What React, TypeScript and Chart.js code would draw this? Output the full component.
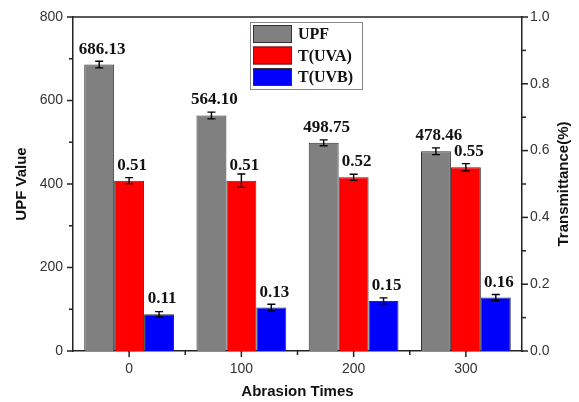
import React, { useEffect, useRef } from "react";
import { Chart, registerables } from "chart.js";

Chart.register(...registerables);

const categories = ["0", "100", "200", "300"];
const upfValues = [686.13, 564.1, 498.75, 478.46];
const upfErrors = [8, 8, 7, 8];
const uvaValues = [0.51, 0.51, 0.52, 0.55];
const uvaErrors = [0.009, 0.02, 0.009, 0.011];
const uvbValues = [0.11, 0.13, 0.15, 0.16];
const uvbErrors = [0.008, 0.01, 0.009, 0.009];
const upfLabels = ["686.13", "564.10", "498.75", "478.46"];
const uvaLabels = ["0.51", "0.51", "0.52", "0.55"];
const uvbLabels = ["0.11", "0.13", "0.15", "0.16"];
const seriesNames = ["UPF", "T(UVA)", "T(UVB)"];
const seriesColors = ["#808080", "#ff0000", "#0000ff"];

const AXIS = "#222";

const customPlugin = {
  id: "custom",
  afterDatasetsDraw(chart: any) {
    const ctx = chart.ctx;
    const { left, right, top, bottom } = chart.chartArea;
    const y = chart.scales.y;
    const y1 = chart.scales.y1;
    const x = chart.scales.x;
    ctx.save();
    // frame top line
    ctx.strokeStyle = AXIS;
    ctx.lineWidth = 1.5;
    ctx.beginPath();
    ctx.moveTo(left, top);
    ctx.lineTo(right, top);
    ctx.stroke();
    // left ticks
    for (let v = 0; v <= 800; v += 100) {
      const py = y.getPixelForValue(v);
      const len = v % 200 === 0 ? 6 : 4;
      ctx.beginPath();
      ctx.moveTo(left, py);
      ctx.lineTo(left - len, py);
      ctx.stroke();
    }
    for (let i = 0; i <= 10; i++) {
      const py = y1.getPixelForValue(i / 10);
      const len = i % 2 === 0 ? 6 : 4;
      ctx.beginPath();
      ctx.moveTo(right, py);
      ctx.lineTo(right + len, py);
      ctx.stroke();
    }
    const catW = (right - left) / categories.length;
    for (let i = 0; i < categories.length; i++) {
      const px = x.getPixelForValue(i);
      ctx.beginPath();
      ctx.moveTo(px, bottom);
      ctx.lineTo(px, bottom + 6);
      ctx.stroke();
      if (i > 0) {
        const mx = px - catW / 2;
        ctx.beginPath();
        ctx.moveTo(mx, bottom);
        ctx.lineTo(mx, bottom + 4);
        ctx.stroke();
      }
    }
    // error bars and labels
    const errs = [upfErrors, uvaErrors, uvbErrors];
    const labs = [upfLabels, uvaLabels, uvbLabels];
    chart.data.datasets.forEach((ds: any, di: number) => {
      const meta = chart.getDatasetMeta(di);
      const sc = chart.scales[ds.yAxisID];
      meta.data.forEach((bar: any, i: number) => {
        const v = ds.data[i];
        const e = errs[di][i];
        const yt = sc.getPixelForValue(v + e);
        const yb = sc.getPixelForValue(v - e);
        const bx = bar.x;
        ctx.strokeStyle = "#000";
        ctx.lineWidth = 1.4;
        ctx.beginPath();
        ctx.moveTo(bx, yt);
        ctx.lineTo(bx, yb);
        ctx.moveTo(bx - 4, yt);
        ctx.lineTo(bx + 4, yt);
        ctx.moveTo(bx - 4, yb);
        ctx.lineTo(bx + 4, yb);
        ctx.stroke();
        ctx.fillStyle = "#111";
        ctx.font = "bold 17px 'Liberation Serif', 'Times New Roman', serif";
        ctx.textAlign = "center";
        ctx.textBaseline = "alphabetic";
        ctx.fillText(labs[di][i], bx + 3, bar.y - 11);
      });
    });
    // legend
    ctx.strokeStyle = "#888";
    ctx.lineWidth = 1;
    ctx.fillStyle = "#fff";
    ctx.fillRect(250, 22, 112, 67);
    ctx.strokeRect(250.5, 22.5, 112, 67);
    for (let i = 0; i < 3; i++) {
      const sy = 25 + i * 21.5;
      ctx.fillStyle = seriesColors[i];
      ctx.fillRect(253, sy, 39, 18);
      ctx.strokeStyle = "#333";
      ctx.strokeRect(253.5, sy + 0.5, 38, 17);
      ctx.fillStyle = "#111";
      ctx.font = "bold 16px 'Liberation Serif', 'Times New Roman', serif";
      ctx.textAlign = "left";
      ctx.textBaseline = "middle";
      ctx.fillText(seriesNames[i], 298, sy + 10);
    }
    // axis titles
    ctx.fillStyle = "#111";
    ctx.font = "bold 15px 'Liberation Sans', Arial, sans-serif";
    ctx.textAlign = "center";
    ctx.textBaseline = "middle";
    const cy = (top + bottom) / 2;
    ctx.save();
    ctx.translate(22, cy);
    ctx.rotate(-Math.PI / 2);
    ctx.fillText("UPF Value", 0, 0);
    ctx.restore();
    ctx.save();
    ctx.translate(564, cy);
    ctx.rotate(-Math.PI / 2);
    ctx.fillText("Transmittance(%)", 0, 0);
    ctx.restore();
    ctx.fillText("Abrasion Times", (left + right) / 2, 392);
    ctx.restore();
  },
};

export default function App() {
  const ref = useRef<HTMLCanvasElement>(null);
  useEffect(() => {
    document.body.style.margin = "0";
    const tickFont = { family: "'Liberation Sans', Arial, sans-serif", size: 14 };
    const chart = new Chart(ref.current!, {
      type: "bar",
      data: {
        labels: categories,
        datasets: [
          { label: seriesNames[0], data: upfValues, yAxisID: "y", backgroundColor: seriesColors[0], borderColor: "#333", borderWidth: 1 },
          { label: seriesNames[1], data: uvaValues, yAxisID: "y1", backgroundColor: seriesColors[1], borderColor: "#333", borderWidth: 1 },
          { label: seriesNames[2], data: uvbValues, yAxisID: "y1", backgroundColor: seriesColors[2], borderColor: "#333", borderWidth: 1 },
        ],
      },
      options: {
        responsive: false,
        animation: false,
        layout: { padding: { top: 17, left: 0, right: 0, bottom: 0 } },
        plugins: { legend: { display: false }, tooltip: { enabled: false } },
        datasets: { bar: { categoryPercentage: 0.8, barPercentage: 1.0 } },
        scales: {
          x: {
            type: "category",
            offset: true,
            grid: { display: false },
            border: { display: true, color: AXIS, width: 1.5 },
            ticks: { font: tickFont, color: "#333", padding: 2 },
            afterFit: (s: any) => { s.height = 51; },
          },
          y: {
            position: "left",
            min: 0,
            max: 800,
            grid: { display: false },
            border: { display: true, color: AXIS, width: 1.5 },
            ticks: { stepSize: 200, font: tickFont, color: "#333", padding: 2 },
            afterFit: (s: any) => { s.width = 73; },
          },
          y1: {
            position: "right",
            min: 0,
            max: 1,
            grid: { display: false },
            border: { display: true, color: AXIS, width: 1.5 },
            ticks: { stepSize: 0.2, font: tickFont, color: "#333", padding: 0, callback: (v: any) => Number(v).toFixed(1) },
            afterFit: (s: any) => { s.width = 57; },
          },
        },
      } as any,
      plugins: [customPlugin],
    });
    return () => chart.destroy();
  }, []);
  return (
    <div style={{ position: "fixed", left: 0, top: 0, width: 579, height: 402, background: "#fff" }}>
      <canvas ref={ref} width={579} height={402} />
    </div>
  );
}
